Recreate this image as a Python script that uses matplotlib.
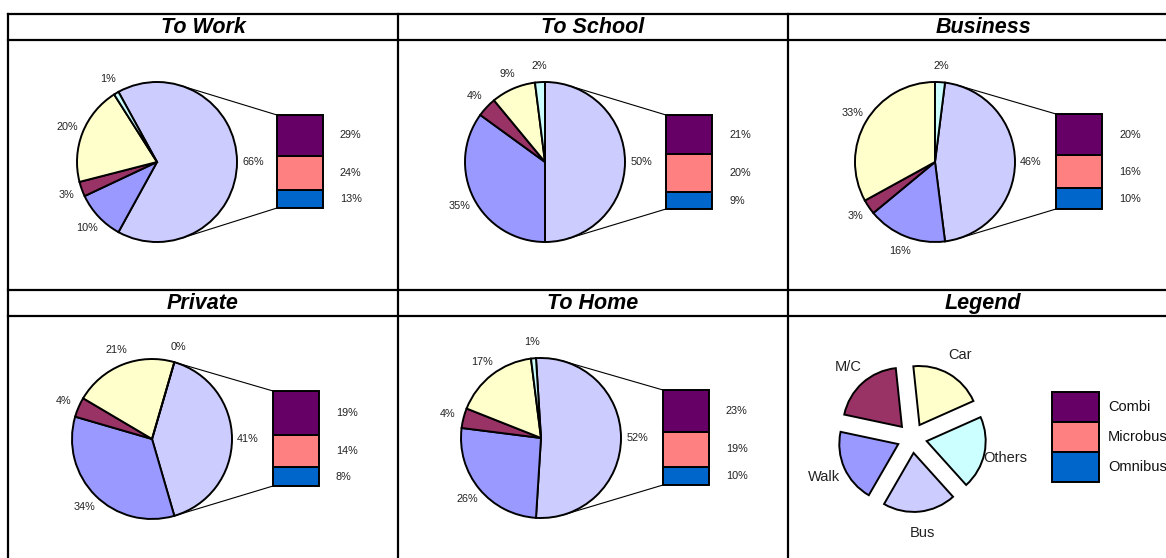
import numpy as np
import matplotlib.pyplot as plt

plt.rcParams['font.family'] = ['Liberation Sans', 'DejaVu Sans']

W, H = 1166, 558

# trip purposes and modal split (%)
titles = ['To Work', 'To School', 'Business', 'Private', 'To Home']
modes = ['Bus', 'Walk', 'M/C', 'Car', 'Others']
mode_colors = {'Bus': '#CCCCFF', 'Walk': '#9999FF', 'M/C': '#993366',
               'Car': '#FFFFCC', 'Others': '#CCFFFF'}
bus = [66, 50, 46, 41, 52]
walk = [10, 35, 16, 34, 26]
mc = [3, 4, 3, 4, 4]
car = [20, 9, 33, 21, 17]
others = [1, 2, 2, 0, 1]

# bus share broken down by bus type (%)
bus_types = ['Combi', 'Microbus', 'Omnibus']
bus_type_colors = ['#660066', '#FF8080', '#0066CC']
combi = [29, 21, 20, 19, 23]
microbus = [24, 20, 16, 14, 19]
omnibus = [13, 9, 10, 8, 10]

legend_order = ['Car', 'Others', 'Bus', 'Walk', 'M/C']

# layout in pixels (y measured from the top)
pie_xy = [(157, 162), (545, 162), (935, 162), (152, 439), (541, 438)]
bar_box = [(277, 115, 208), (666, 115, 209), (1056, 114, 209),
           (273, 391, 486), (663, 390, 485)]
R = 80
BAR_W = 46


def Y(yp):
    return H - yp


fig = plt.figure(figsize=(11.66, 5.58), dpi=100)
ax = fig.add_axes([0, 0, 1, 1])

for i, title in enumerate(titles):
    vals = [bus[i], walk[i], mc[i], car[i], others[i]]
    cx, cy = pie_xy[i][0], Y(pie_xy[i][1])
    half = bus[i] / sum(vals) * 180
    ax.pie(vals, colors=[mode_colors[m] for m in modes], startangle=half,
           counterclock=False, center=(cx, cy), radius=R,
           wedgeprops=dict(edgecolor='black', linewidth=1.4),
           autopct=lambda p: f'{p:.0f}%', pctdistance=1.2,
           textprops=dict(fontsize=7.8, color='#222222'))

    # stacked bar of the bus slice, Combi on top
    bx, btop, bbot = bar_box[i]
    segs = [combi[i], microbus[i], omnibus[i]]
    scale = (bbot - btop) / sum(segs)
    bottom = Y(bbot)
    for v, c in zip(segs[::-1], bus_type_colors[::-1]):
        ax.bar(bx + BAR_W / 2, v * scale, width=BAR_W, bottom=bottom,
               color=c, edgecolor='black', linewidth=1.4, zorder=3)
        ax.text(bx + BAR_W + 17, bottom + v * scale / 2, f'{v}%',
                fontsize=7.8, color='#222222', va='center', ha='left')
        bottom += v * scale

    # connector lines from pie to bar
    for corner, sign in ((Y(btop), 1), (Y(bbot), -1)):
        dx, dy = bx - cx, corner - cy
        d = np.hypot(dx, dy)
        ang = np.arctan2(dy, dx) + sign * np.arccos(R / d)
        lim = np.radians(half)
        ang = min(ang, lim) if sign > 0 else max(ang, -lim)
        ax.plot([cx + R * np.cos(ang), bx], [cy + R * np.sin(ang), corner],
                color='black', lw=0.8, zorder=1)

# legend panel
lcx, lcy, lr = 912, Y(438), 59
wedges, texts = ax.pie([1] * 5, colors=[mode_colors[m] for m in legend_order],
                       labels=legend_order, startangle=96, counterclock=False,
                       center=(lcx, lcy), radius=lr, explode=[15] * 5,
                       labeldistance=1.37,
                       wedgeprops=dict(edgecolor='black', linewidth=1.4),
                       textprops=dict(fontsize=10.5, color='#222222'))
for t in texts:
    t.set_ha('center')

lbx, lbtop, lbh = 1052, 392, 30
for k, (name, c) in enumerate(zip(bus_types, bus_type_colors)):
    ax.bar(lbx + 47 / 2, lbh, width=47, bottom=Y(lbtop + (k + 1) * lbh),
           color=c, edgecolor='black', linewidth=1.4, zorder=3)
    ax.text(1108, Y(lbtop + (k + 0.5) * lbh), name, fontsize=10.5,
            color='#111111', va='center', ha='left')

# table grid and titles
cols = [8, 398, 788, 1178]
for x in cols:
    ax.plot([x, x], [Y(14), 0], color='black', lw=1.6, zorder=5)
for yp in (14, 40, 290, 316):
    ax.plot([8, W], [Y(yp), Y(yp)], color='black', lw=1.6, zorder=5)

for k, title in enumerate(titles + ['Legend']):
    col, row = k % 3, k // 3
    xc = (cols[col] + cols[col + 1]) / 2
    yc = 27.5 if row == 0 else 303.5
    ax.text(xc, Y(yc), title, fontsize=15.5, fontweight='bold',
            fontstyle='italic', ha='center', va='center')

ax.set_xlim(0, W)
ax.set_ylim(0, H)
ax.set_aspect('equal')
ax.axis('off')

fig.savefig('out.png', dpi=100)
